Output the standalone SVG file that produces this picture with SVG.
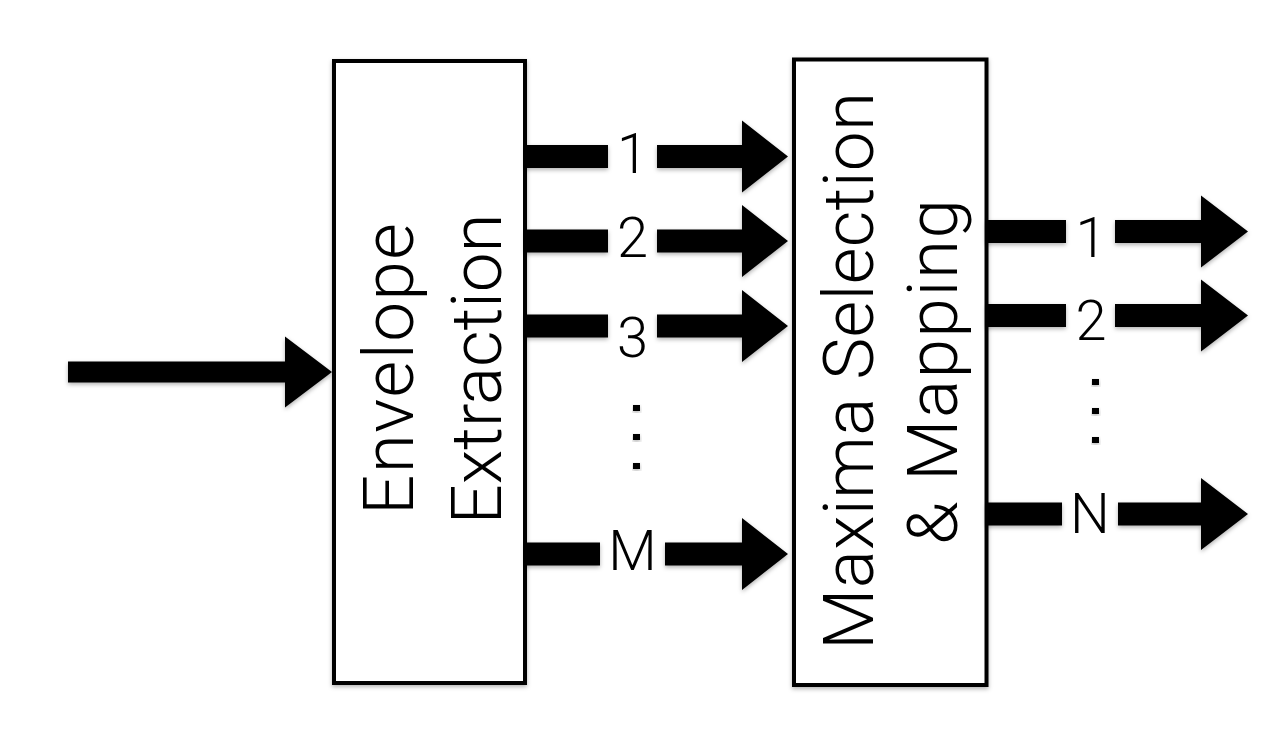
<svg xmlns="http://www.w3.org/2000/svg" width="1288" height="730" viewBox="0 0 1288 730">
  <defs>
    <filter id="sh" x="-10%" y="-10%" width="130%" height="130%">
      <feDropShadow dx="0" dy="2" stdDeviation="2" flood-color="#000" flood-opacity="0.3"/>
    </filter>
  </defs>
  <style>
    .box { fill: #fff; stroke: #000; stroke-width: 4; filter: url(#sh); }
    .arr { fill: #000; filter: url(#sh); }
    .dot { fill: #000; filter: url(#sh); }
    .lbl { font-family: Roboto, "Liberation Sans", Arial, sans-serif; font-weight: 300; font-size: 56px; fill: #000; text-anchor: middle; }
    .big { font-family: Roboto, "Liberation Sans", Arial, sans-serif; font-weight: 300; font-size: 71px; fill: #000; text-anchor: middle; }
  </style>
  <rect width="1288" height="730" fill="#fff"/>

  <g id="envelope-extraction">
    <rect class="box" x="334" y="61" width="191" height="622"/>
    <text class="big" transform="translate(413,369) rotate(-90)" textLength="292" lengthAdjust="spacing">Envelope</text>
    <text class="big" transform="translate(501,369) rotate(-90)" textLength="311" lengthAdjust="spacing">Extraction</text>
  </g>

  <g id="maxima-selection-mapping">
    <rect class="box" x="794" y="59.5" width="192.5" height="625.5"/>
    <text class="big" transform="translate(873,371) rotate(-90)" textLength="558" lengthAdjust="spacing">Maxima Selection</text>
    <text class="big" transform="translate(957,372) rotate(-90)" textLength="346" lengthAdjust="spacing">&amp; Mapping</text>
  </g>

  <g id="connectors">
    <!-- input -->
    <path class="arr" d="M68,361.5 H285 V336.5 L332,372 L285,407.5 V382.5 H68 Z"/>
    <!-- envelope -> maxima -->
    <path class="arr" d="M525,145 H608 V168 H525 Z M657,145 H742 V120.5 L788,156.5 L742,192.5 V168 H657 Z"/>
    <path class="arr" d="M525,229.5 H608 V252.5 H525 Z M657,229.5 H742 V205 L788,241 L742,277 V252.5 H657 Z"/>
    <path class="arr" d="M525,314.5 H608 V337.5 H525 Z M657,314.5 H742 V290 L788,326 L742,362 V337.5 H657 Z"/>
    <path class="arr" d="M525,542.5 H600 V565.5 H525 Z M665,542.5 H742 V518 L788,554 L742,590 V565.5 H665 Z"/>
    <text class="lbl" x="632.5" y="173">1</text>
    <text class="lbl" x="632.5" y="257">2</text>
    <text class="lbl" x="632.5" y="357">3</text>
    <text class="lbl" x="632.5" y="570">M</text>
    <rect class="dot" x="633" y="405" width="7" height="6"/>
    <rect class="dot" x="633" y="434" width="7" height="6"/>
    <rect class="dot" x="633" y="463" width="7" height="6"/>
    <!-- outputs -->
    <path class="arr" d="M986,220 H1066 V243 H986 Z M1115,220 H1201 V195.5 L1248,231.5 L1201,267.5 V243 H1115 Z"/>
    <path class="arr" d="M986,304 H1066 V327 H986 Z M1115,304 H1201 V279.5 L1248,315.5 L1201,351.5 V327 H1115 Z"/>
    <path class="arr" d="M986,502.5 H1062 V525.5 H986 Z M1118,502.5 H1201 V478 L1248,514 L1201,550 V525.5 H1118 Z"/>
    <text class="lbl" x="1091" y="257">1</text>
    <text class="lbl" x="1091" y="340">2</text>
    <text class="lbl" x="1090" y="533">N</text>
    <rect class="dot" x="1092" y="379" width="7" height="6"/>
    <rect class="dot" x="1092" y="408" width="7" height="6"/>
    <rect class="dot" x="1092" y="437" width="7" height="6"/>
  </g>
</svg>
